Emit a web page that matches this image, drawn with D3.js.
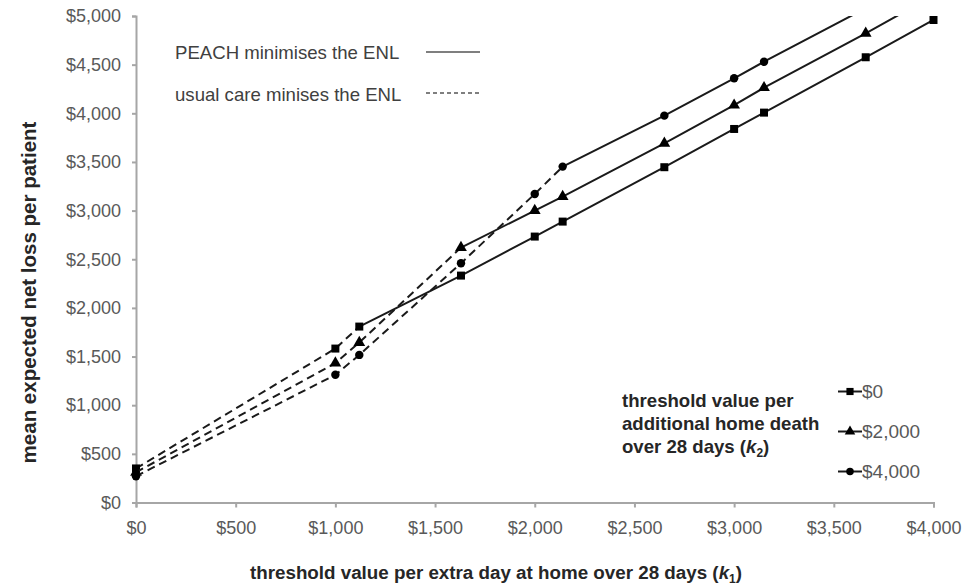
<!DOCTYPE html>
<html>
<head>
<meta charset="utf-8">
<script src="https://cdn.jsdelivr.net/npm/d3@7"></script>
<style>
  html, body { margin: 0; padding: 0; background: #fff; }
  svg { display: block; }
  text { font-family: "Liberation Sans", Arial, sans-serif; }
</style>
</head>
<body>
<svg id="chart" width="974" height="586"></svg>
<script>
// ---- data ----
const k1Values = [0, 1000, 1120, 1630, 2000, 2140, 2650, 3000, 3150, 3660, 4000];
const enlK2_0    = [350, 1582, 1808, 2332, 2733, 2887, 3446, 3839, 4007, 4576, 4959];
const enlK2_2000 = [310, 1432, 1644, 2620, 3000, 3144, 3692, 4083, 4263, 4822, 5210];
const enlK2_4000 = [270, 1312, 1517, 2459, 3171, 3452, 3976, 4360, 4530, 5080, 5470];
// index at which PEACH starts minimising the ENL (usual care before, inclusive of switch point)
const switchIndex = [2, 3, 5];
const seriesLabels = ["$0", "$2,000", "$4,000"];
const xTicks = [0, 500, 1000, 1500, 2000, 2500, 3000, 3500, 4000];
const yTicks = [0, 500, 1000, 1500, 2000, 2500, 3000, 3500, 4000, 4500, 5000];

const seriesValues = [enlK2_0, enlK2_2000, enlK2_4000];
const markerTypes = [d3.symbolSquare, d3.symbolTriangle, d3.symbolCircle];
const markerSizes = [64, 60, 56];

const svg = d3.select("#chart");
const x = d3.scaleLinear().domain([0, 4000]).range([136, 933.5]);
const y = d3.scaleLinear().domain([0, 5000]).range([502.5, 16]);
const fmt = v => "$" + d3.format(",")(v);
const axisColor = "#a6a6a6";
const tickTextColor = "#595959";

// axes
const yAxis = svg.append("g").attr("transform", `translate(${x(0)},0)`)
  .call(d3.axisLeft(y).tickValues(yTicks).tickFormat(fmt).tickSize(4).tickPadding(11));
const xAxis = svg.append("g").attr("transform", `translate(0,${y(0)})`)
  .call(d3.axisBottom(x).tickValues(xTicks).tickFormat(fmt).tickSize(5).tickPadding(9));
[yAxis, xAxis].forEach(g => {
  g.select(".domain").attr("stroke", axisColor).attr("stroke-width", 2);
  g.selectAll(".tick line").attr("stroke", axisColor).attr("stroke-width", 2);
  g.selectAll(".tick text").attr("fill", tickTextColor).style("font-size", "18px")
    .style("font-family", "'Liberation Sans', Arial, sans-serif");
});
xAxis.selectAll(".tick text").attr("dy", "0.95em");

// clip
svg.append("defs").append("clipPath").attr("id", "plotclip")
  .append("rect").attr("x", 100).attr("y", 16).attr("width", 860).attr("height", 520);

const plot = svg.append("g").attr("clip-path", "url(#plotclip)");
const line = d3.line().x(d => x(d[0])).y(d => y(d[1]));
const lineColor = "#1a1a1a";

seriesValues.forEach((vals, si) => {
  const pts = k1Values.map((k, i) => [k, vals[i]]);
  const s = switchIndex[si];
  plot.append("path").datum(pts.slice(0, s + 1))
    .attr("d", line).attr("fill", "none").attr("stroke", lineColor)
    .attr("stroke-width", 2).attr("stroke-dasharray", "8,5");
  plot.append("path").datum(pts.slice(s))
    .attr("d", line).attr("fill", "none").attr("stroke", lineColor)
    .attr("stroke-width", 2);
  plot.selectAll(null).data(pts).enter().append("path")
    .attr("d", d3.symbol().type(markerTypes[si]).size(markerSizes[si]))
    .attr("transform", d => `translate(${x(d[0])},${y(d[1])})`)
    .attr("fill", "#000");
});

// top legend (line style)
const lg = svg.append("g");
lg.append("text").attr("x", 175).attr("y", 58.5).attr("fill", "#404040")
  .style("font-size", "18.6px").text("PEACH minimises the ENL");
lg.append("line").attr("x1", 426).attr("x2", 480).attr("y1", 52).attr("y2", 52)
  .attr("stroke", "#7f7f7f").attr("stroke-width", 2);
lg.append("text").attr("x", 175).attr("y", 101).attr("fill", "#404040")
  .style("font-size", "18.6px").text("usual care minises the ENL");
lg.append("line").attr("x1", 426).attr("x2", 480).attr("y1", 93).attr("y2", 93)
  .attr("stroke", "#7f7f7f").attr("stroke-width", 2).attr("stroke-dasharray", "4,3");

// k2 legend
const kg = svg.append("g");
const kt = kg.append("text").attr("x", 622).attr("y", 406.5).attr("fill", "#262626")
  .style("font-size", "18.6px").style("font-weight", "bold");
kt.append("tspan").attr("x", 622).attr("y", 406.5).text("threshold value per");
kt.append("tspan").attr("x", 622).attr("y", 429.5).text("additional home death");
const l3 = kt.append("tspan").attr("x", 622).attr("y", 452.5);
l3.append("tspan").text("over 28 days (");
l3.append("tspan").style("font-style", "italic").text("k");
l3.append("tspan").style("font-size", "12px").attr("dy", 4).text("2");
l3.append("tspan").attr("dy", -4).text(")");

const legendRows = [391.5, 431.5, 471.5];
seriesLabels.forEach((lab, si) => {
  const yy = legendRows[si];
  kg.append("line").attr("x1", 838).attr("x2", 862).attr("y1", yy).attr("y2", yy)
    .attr("stroke", lineColor).attr("stroke-width", 2);
  kg.append("path").attr("d", d3.symbol().type(markerTypes[si]).size(markerSizes[si] * 0.8))
    .attr("transform", `translate(850,${yy})`).attr("fill", "#000");
  kg.append("text").attr("x", 862).attr("y", yy + 6.5).attr("fill", tickTextColor)
    .style("font-size", "19px").text(lab);
});

// axis titles
const yt = svg.append("text")
  .attr("transform", "translate(36,292.5) rotate(-90)")
  .attr("text-anchor", "middle").attr("fill", "#262626")
  .style("font-size", "20.5px").style("font-weight", "bold")
  .text("mean expected net loss per patient");

const xt = svg.append("text").attr("x", 496).attr("y", 579)
  .attr("text-anchor", "middle").attr("fill", "#262626")
  .style("font-size", "18.8px").style("font-weight", "bold");
xt.append("tspan").text("threshold value per extra day at home over 28 days (");
xt.append("tspan").style("font-style", "italic").text("k");
xt.append("tspan").style("font-size", "12px").attr("dy", 4).text("1");
xt.append("tspan").attr("dy", -4).text(")");
</script>
</body>
</html>
